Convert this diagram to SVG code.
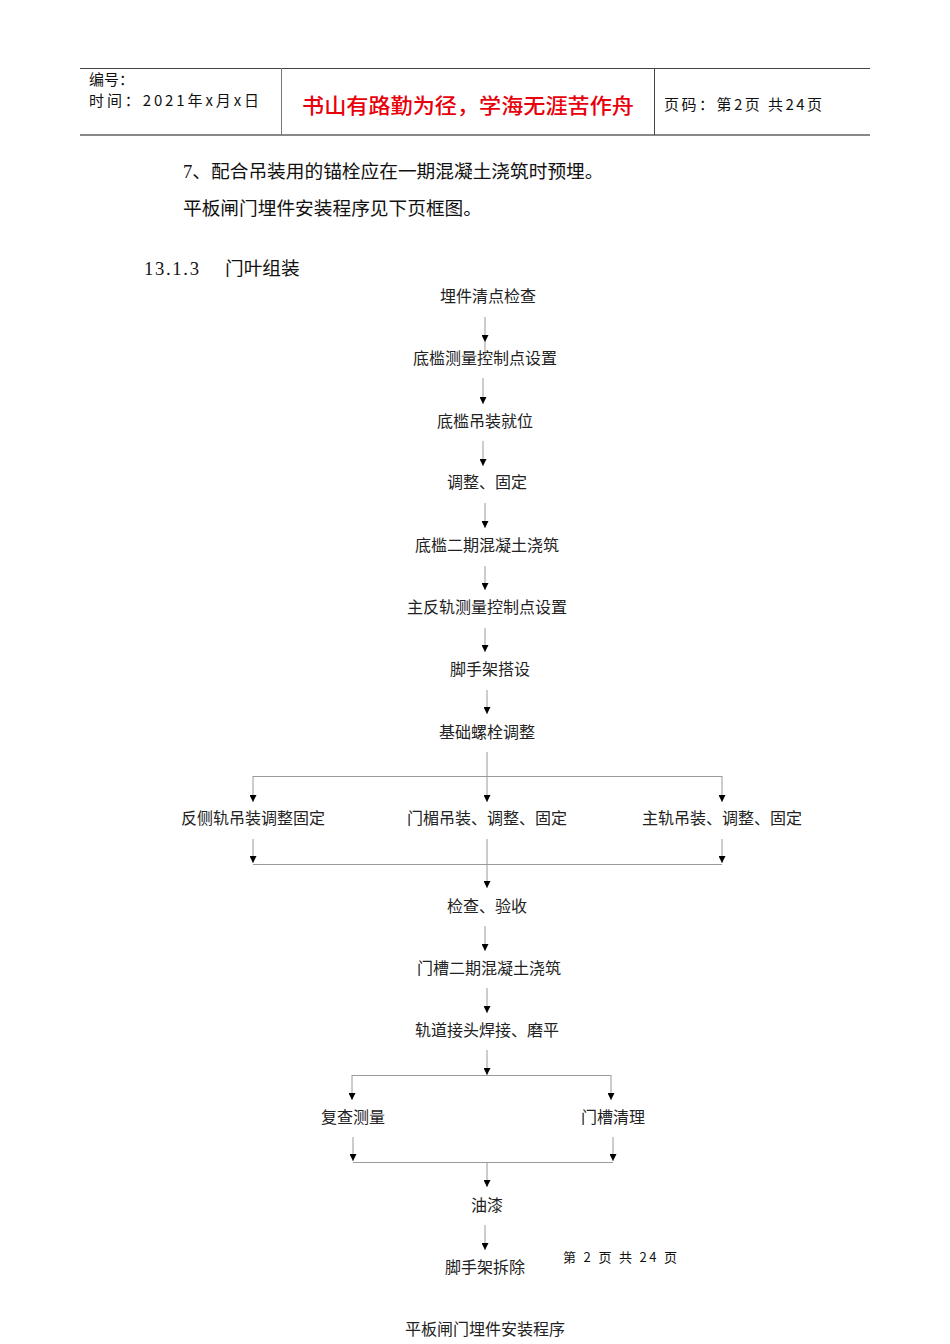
<svg xmlns="http://www.w3.org/2000/svg" width="950" height="1344" viewBox="0 0 950 1344">
<style>
text{font-family:"Noto Sans CJK SC","Liberation Sans",sans-serif;dominant-baseline:central;fill:#111}
.hd{font-size:15px}
.body{font-size:18.7px;font-family:"Liberation Serif","Noto Sans CJK SC",serif}
.n{font-size:16px;text-anchor:middle;fill:#222}
.c line,.c path{stroke:#9a9a9a;stroke-width:1;fill:none}
.c .a{marker-end:url(#ah)}
</style>
<defs>
<marker id="ah" viewBox="0 0 10 10" refX="10" refY="5" markerWidth="9" markerHeight="7" markerUnits="userSpaceOnUse" orient="auto">
<path d="M0,0 L10,5 L0,10 z" fill="#000"/>
</marker>
</defs>
<rect width="950" height="1344" fill="#fff"/>
<g id="header">
<line x1="80" y1="68.5" x2="870" y2="68.5" stroke="#444" stroke-width="1"/>
<line x1="80" y1="135" x2="870" y2="135" stroke="#888" stroke-width="2"/>
<line x1="281.5" y1="68" x2="281.5" y2="135" stroke="#777"/>
<line x1="654.5" y1="68" x2="654.5" y2="135" stroke="#444"/>
<text class="hd" x="89" y="78">编号：</text>
<text class="hd" x="89" y="99" textLength="170" lengthAdjust="spacing">时间：2021年x月x日</text>
<text x="302" y="104" font-size="21" font-weight="500" textLength="332" lengthAdjust="spacingAndGlyphs" style="fill:#e8000b">书山有路勤为径，学海无涯苦作舟</text>
<text class="hd" x="664" y="103" textLength="158" lengthAdjust="spacing">页码：第2页 共24页</text>
</g>
<g id="body-text">
<text class="body" x="183" y="171">7、配合吊装用的锚栓应在一期混凝土浇筑时预埋。</text>
<text class="body" x="183" y="208">平板闸门埋件安装程序见下页框图。</text>
<text class="body" x="144" y="268" textLength="55" lengthAdjust="spacing">13.1.3</text>
<text class="body" x="225" y="268">门叶组装</text>
</g>
<g id="connectors" class="c">
<line class="a" x1="485" y1="317" x2="485" y2="342"/>
<line x1="485" y1="342" x2="485" y2="363"/>
<line class="a" x1="483" y1="378" x2="483" y2="404"/>
<line class="a" x1="483" y1="441" x2="483" y2="466"/>
<line class="a" x1="485" y1="503" x2="485" y2="528"/>
<line class="a" x1="485" y1="566" x2="485" y2="590"/>
<line class="a" x1="485" y1="628" x2="485" y2="652"/>
<line class="a" x1="487" y1="690" x2="487" y2="714"/>
<line class="a" x1="487" y1="752" x2="487" y2="802"/>
<line x1="253" y1="776.5" x2="722" y2="776.5"/>
<line class="a" x1="253" y1="776" x2="253" y2="802"/>
<line class="a" x1="722" y1="776" x2="722" y2="802"/>
<line class="a" x1="253" y1="839" x2="253" y2="863"/>
<line class="a" x1="722" y1="839" x2="722" y2="863"/>
<line x1="253" y1="864.5" x2="722" y2="864.5"/>
<line class="a" x1="487" y1="839" x2="487" y2="888"/>
<line class="a" x1="485" y1="926" x2="485" y2="951"/>
<line class="a" x1="487" y1="988" x2="487" y2="1013"/>
<line class="a" x1="487" y1="1050" x2="487" y2="1075"/>
<line x1="352" y1="1075.5" x2="611" y2="1075.5"/>
<line class="a" x1="352" y1="1075" x2="352" y2="1100"/>
<line class="a" x1="611" y1="1075" x2="611" y2="1100"/>
<line class="a" x1="353" y1="1137" x2="353" y2="1161"/>
<line class="a" x1="613" y1="1137" x2="613" y2="1161"/>
<line x1="353" y1="1162.5" x2="613" y2="1162.5"/>
<line class="a" x1="487" y1="1162" x2="487" y2="1187"/>
<line class="a" x1="485" y1="1225" x2="485" y2="1250"/>
</g>
<g id="n1"><text class="n" x="488" y="295">埋件清点检查</text></g>
<g id="n2"><text class="n" x="485" y="357">底槛测量控制点设置</text></g>
<g id="n3"><text class="n" x="485" y="420">底槛吊装就位</text></g>
<g id="n4"><text class="n" x="487" y="481">调整、固定</text></g>
<g id="n5"><text class="n" x="487" y="544">底槛二期混凝土浇筑</text></g>
<g id="n6"><text class="n" x="487" y="606">主反轨测量控制点设置</text></g>
<g id="n7"><text class="n" x="490" y="668">脚手架搭设</text></g>
<g id="n8"><text class="n" x="487" y="731">基础螺栓调整</text></g>
<g id="n9"><text class="n" x="253" y="817">反侧轨吊装调整固定</text></g>
<g id="n10"><text class="n" x="487" y="817">门楣吊装、调整、固定</text></g>
<g id="n11"><text class="n" x="722" y="817">主轨吊装、调整、固定</text></g>
<g id="n12"><text class="n" x="487" y="905">检查、验收</text></g>
<g id="n13"><text class="n" x="489" y="967">门槽二期混凝土浇筑</text></g>
<g id="n14"><text class="n" x="487" y="1029">轨道接头焊接、磨平</text></g>
<g id="n15"><text class="n" x="353" y="1116">复查测量</text></g>
<g id="n16"><text class="n" x="613" y="1116">门槽清理</text></g>
<g id="n17"><text class="n" x="487" y="1204">油漆</text></g>
<g id="n18"><text class="n" x="485" y="1266">脚手架拆除</text></g>
<g id="footer">
<text x="563" y="1256" font-size="13" textLength="114" lengthAdjust="spacing">第 2 页 共 24 页</text>
<text class="n" x="485" y="1328">平板闸门埋件安装程序</text>
</g>
</svg>
